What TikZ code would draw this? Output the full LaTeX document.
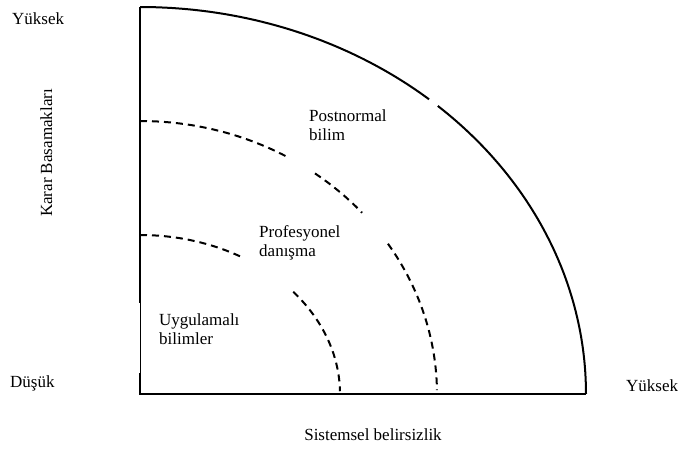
\documentclass[tikz,border=0pt]{standalone}
\usepackage{fontspec}
\setmainfont{Liberation Serif}
\begin{document}
\begin{tikzpicture}[x=1pt,y=-1pt,
  lbl/.style={inner sep=0pt,anchor=base west,align=left,font=\fontsize{17}{19}\selectfont},
  axis/.style={line width=2pt},
  thinaxis/.style={line width=0.9pt},
  bound/.style={line width=2pt,dash pattern=on 7pt off 5pt}]
\useasboundingbox (0,0) rectangle (680,449);
% axes
\coordinate (top) at (140,7);
\coordinate (thinA) at (140,303);
\coordinate (thinB) at (140,373);
\coordinate (origin) at (140,394);
\coordinate (right) at (586,394);
\draw[axis] (top) -- (thinA);
\draw[thinaxis] (thinA) -- (thinB);
\draw[axis] (thinB) -- (origin) -- (right);
% outer quarter ellipse with a small gap
\draw[axis] plot[domain=0:48.1,samples=60] ({140+446*cos(\x)},{394-387*sin(\x)});
\draw[axis] plot[domain=49.6:90,samples=60] ({140+446*cos(\x)},{394-387*sin(\x)});
% outer dashed boundary
\draw[bound] plot[domain=90:60.1,samples=40] ({140+297*cos(\x)},{394-273*sin(\x)});
\draw[bound] plot[domain=53.9:41.6,samples=20] ({140+297*cos(\x)},{394-273*sin(\x)});
\draw[bound] plot[domain=33.4:0.8,samples=40] ({140+297*cos(\x)},{394-273*sin(\x)});
% inner dashed boundary
\draw[bound] plot[domain=90:60,samples=40] ({140+200*cos(\x)},{394-159*sin(\x)});
\draw[bound] plot[domain=40:1,samples=40] ({140+200*cos(\x)},{394-159*sin(\x)});
% labels
\node[lbl] (yhigh) at (12,25) {Yüksek};
\node[lbl] (ylow) at (10,387) {Düşük};
\node[lbl] (xhigh) at (626,391) {Yüksek};
\node[inner sep=0pt,font=\fontsize{17}{19}\selectfont,anchor=base] (xlab) at (373,440) {Sistemsel belirsizlik};
\node[inner sep=0pt,font=\fontsize{17}{19}\selectfont,rotate=90,anchor=base] (ylab) at (52,153) {Karar Basamakları};
\node[lbl] (post) at (309,141) {Postnormal\\bilim};
\node[lbl] (prof) at (259,256) {Profesyonel\\danışma};
\node[lbl] (appl) at (159,344) {Uygulamalı\\bilimler};
\end{tikzpicture}
\end{document}
